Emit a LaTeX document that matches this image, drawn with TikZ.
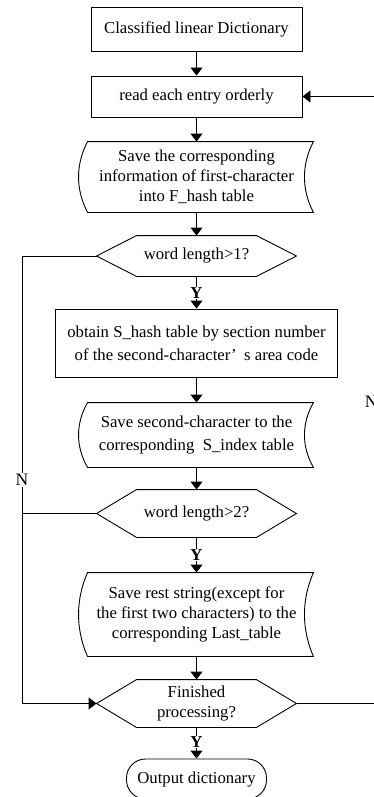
\documentclass[tikz,border=0pt]{standalone}
\usepackage{fontspec}
\setmainfont{Liberation Serif}
\usetikzlibrary{arrows.meta,calc}
\newcommand{\hexpath}[1]{\draw (#1.west) -- ($(#1.north west)+(40,0)$) -- ($(#1.north east)+(-40,0)$) -- (#1.east) -- ($(#1.south east)+(-40,0)$) -- ($(#1.south west)+(40,0)$) -- cycle;}
\newcommand{\sdpath}[2]{\draw ($(#1.north west)+(4,0)$) -- ($(#1.north east)+(4,0)$)
 .. controls ($(#1.north east)+(-8,#2)$) and ($(#1.south east)+(-8,-#2)$) .. ($(#1.south east)+(4,0)$)
 -- ($(#1.south west)+(4,0)$)
 .. controls ($(#1.south west)+(-8,-#2)$) and ($(#1.north west)+(-8,#2)$) .. ($(#1.north west)+(4,0)$) -- cycle;}
\begin{document}
\begin{tikzpicture}[x=1pt,y=-1pt,line width=0.9pt,line join=miter,
  every node/.style={font=\fontsize{16.7}{20}\selectfont, inner sep=0pt, align=center},
  arr/.style={-{Triangle[length=8pt,width=12pt]}},
  boxnode/.style={draw},
  wide/.style={font=\fontsize{16.7}{23}\selectfont},
  ylab/.style={font=\fontsize{16.7}{20}\selectfont\bfseries, fill=white, inner sep=1pt},
  nlab/.style={font=\fontsize{17.5}{20}\selectfont, fill=white, inner sep=1pt}]
\clip (0,0) rectangle (374,797);
\fill[white] (0,0) rectangle (374,797);
% nodes
\node[boxnode, minimum width=211, minimum height=44] (b1) at (196.5,29) {Classified linear Dictionary};
\node[boxnode, minimum width=211, minimum height=41] (b2) at (196.5,96.5) {read each entry orderly};
\node[minimum width=225, minimum height=70] (s3) at (196.5,177) {Save the corresponding\\information of first-character\\into F\_hash table};
\node[minimum width=199, minimum height=40] (h1) at (196.5,256) {word length>1?};
\node[boxnode, wide, minimum width=282, minimum height=68] (b4) at (196.5,343) {obtain S\_hash table by section number\\of the second-character’\hspace{0.45em}s area code};
\node[wide, minimum width=225, minimum height=64] (s5) at (196.5,435) {Save second-character to the\\corresponding\ \ S\_index table};
\node[minimum width=199, minimum height=47] (h2) at (196.5,513.5) {word length>2?};
\node[minimum width=225, minimum height=83] (s7) at (196.5,614.5) {Save rest string(except for\\the first two characters) to the\\corresponding Last\_table};
\node[minimum width=199, minimum height=47] (h3) at (196.5,703.5) {Finished\\processing?};
\node[draw, rounded corners=19pt, minimum width=140, minimum height=40] (t) at (196.5,779) {Output dictionary};
% shapes
\sdpath{s3}{23}
\sdpath{s5}{21}
\sdpath{s7}{27}
\hexpath{h1}
\hexpath{h2}
\hexpath{h3}
% spine connectors
\draw[arr] (b1.south) -- (b2.north);
\draw[arr] (b2.south) -- (s3.north);
\draw[arr] (s3.south) -- (h1.north);
\draw[arr] (h1.south) -- (b4.north);
\draw[arr] (b4.south) -- (s5.north);
\draw[arr] (s5.south) -- (h2.north);
\draw[arr] (h2.south) -- (s7.north);
\draw[arr] (s7.south) -- (h3.north);
\draw[arr] (h3.south) -- (t.north);
\node[ylab] (y1) at (196.5,293) {Y};
\node[ylab] (y2) at (196.5,555) {Y};
\node[ylab] (y3) at (196.5,742) {Y};
% left loop
\coordinate (lx) at (22,0);
\draw[arr] (h1.west) -- (h1.west -| lx) -- (lx |- h3.west) -- (h3.west);
\draw (h2.west) -- (h2.west -| lx);
\node[nlab] (nl) at (22,480) {N};
% right loop
\coordinate (rx) at (380,0);
\draw (h3.east) -- (h3.east -| rx);
\draw[arr] (b2.east -| rx) -- (b2.east);
\node[font=\fontsize{17.5}{20}\selectfont, anchor=west] (nr) at (364.5,402) {N};
\end{tikzpicture}
\end{document}
